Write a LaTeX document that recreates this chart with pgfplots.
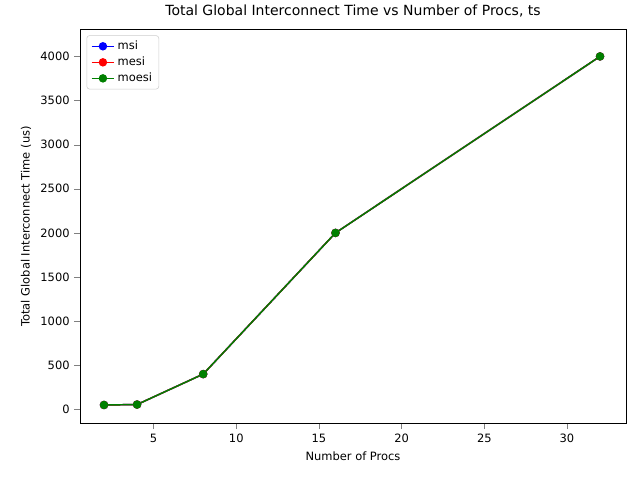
\documentclass[border=0pt]{standalone}
\usepackage{fontspec}
\setmainfont{DejaVu Sans}
\usepackage{pgfplots}
\pgfplotsset{compat=1.18}
\begin{document}
\begin{tikzpicture}
\begin{axis}[at={(0,0)},anchor=south west,scale only axis,width=409.5pt,height=295.5pt,
xmin=0.548,xmax=33.57,ymin=-159,ymax=4306,
xtick={5,10,15,20,25,30},ytick={0,500,1000,1500,2000,2500,3000,3500,4000},
/pgf/number format/assume math mode=true,
yticklabel style={/pgf/number format/1000 sep={}},
font=\fontsize{8.6pt}{10pt}\selectfont,
tick align=outside,tick pos=left,
title={\fontsize{10.5pt}{12pt}\selectfont Total Global Interconnect Time vs Number of Procs, ts},
xlabel={Number of Procs},ylabel={Total Global Interconnect Time (us)},
legend style={at={(0.012,0.985)},anchor=north west,draw=black!20,rounded corners=2pt,font=\fontsize{8.6pt}{11pt}\selectfont},
legend cell align=left,
every axis plot/.append style={line width=1.1pt,mark=*,mark size=2.6pt}]
\addplot[blue] coordinates {(2,50)(4,55)(8,400)(16,2000)(32,4000)};
\addplot[red] coordinates {(2,50)(4,55)(8,400)(16,2000)(32,4000)};
\addplot[green!50!black] coordinates {(2,50)(4,55)(8,400)(16,2000)(32,4000)};
\legend{msi,mesi,moesi}
\end{axis}
\path (-60pt,-43.5pt) rectangle (420pt,316.5pt);
\end{tikzpicture}
\end{document}
